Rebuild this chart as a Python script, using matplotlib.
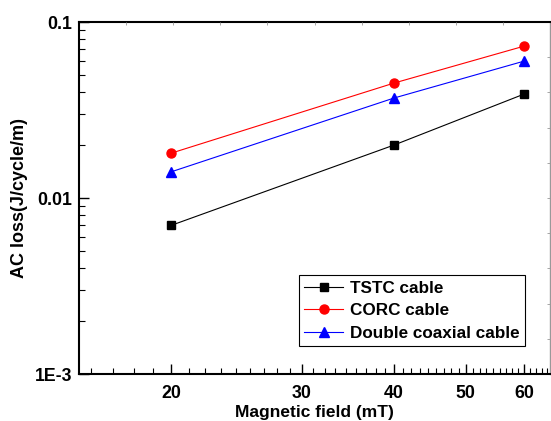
import numpy as np
import matplotlib.pyplot as plt
from matplotlib.ticker import FixedLocator, NullFormatter, NullLocator

plt.rcParams['font.family'] = ['Liberation Sans', 'DejaVu Sans']
plt.rcParams['font.weight'] = 'bold'

# Dados
campo = [20, 40, 60]
tstc = [0.0070, 0.020, 0.039]
corc = [0.018, 0.045, 0.073]
coaxial = [0.0141, 0.037, 0.060]

fig = plt.figure(figsize=(5.51, 4.21), dpi=100)
ax = fig.add_axes([0.1434, 0.1116, 0.8548, 0.8361])

ax.plot(campo, tstc, color='black', lw=0.8, marker='s', ms=5.5, label='TSTC cable')
ax.plot(campo, corc, color='red', lw=0.8, marker='o', ms=6.5, label='CORC cable')
ax.plot(campo, coaxial, color='blue', lw=0.8, marker='^', ms=7.5, label='Double coaxial cable')

ax.set_xscale('log')
ax.set_yscale('log')
ax.set_xlim(15, 65)
ax.set_ylim(1e-3, 0.1)

# Ticks do eixo X (estilo Origin: 8 ticks menores entre os maiores)
ax.xaxis.set_major_locator(FixedLocator([20, 30, 40, 50, 60]))
ax.xaxis.set_minor_locator(FixedLocator(20 + np.arange(-4, 41) * 10 / 9))
ax.xaxis.set_minor_formatter(NullFormatter())
ax.set_xticklabels(['20', '30', '40', '50', '60'])

ax.set_yticks([1e-3, 1e-2, 1e-1])
ax.set_yticklabels(['1E-3', '0.01', '0.1'])

ax.tick_params(which='major', direction='in', length=7, width=1, labelsize=12.8)
ax.tick_params(which='minor', direction='in', length=4, width=0.8)
ax.tick_params(axis='x', which='major', pad=8)
ax.tick_params(axis='y', which='major', pad=5)

for lado in ['left', 'bottom', 'top']:
    ax.spines[lado].set_linewidth(1.5)
ax.spines['right'].set_linewidth(1.0)
ax.spines['right'].set_color('#999999')

# Eixos de cima e da direita com ticks lineares sem rótulos
ax_top = ax.twiny()
ax_top.set_xlim(0, 1)
ax_top.set_xticks(np.linspace(0.1, 0.9, 9))
ax_top.xaxis.set_minor_locator(NullLocator())
ax_top.tick_params(direction='in', length=2, width=0.6, labeltop=False, colors='#999999')

ax_right = ax.twinx()
ax_right.set_ylim(0, 1)
ax_right.set_yticks(np.linspace(0.1, 0.9, 9))
ax_right.yaxis.set_minor_locator(NullLocator())
ax_right.tick_params(direction='in', length=2, width=0.6, labelright=False, colors='#999999')

for eixo in [ax_top, ax_right]:
    for sp in eixo.spines.values():
        sp.set_visible(False)

ax.set_xlabel('Magnetic field (mT)', fontsize=12.5, fontweight='bold', labelpad=2)
ax.set_ylabel('AC loss(J/cycle/m)', fontsize=13, fontweight='bold', labelpad=5)

leg = ax.legend(loc='lower right', bbox_to_anchor=(0.947, 0.0795), fontsize=12.3,
                fancybox=False, framealpha=1, edgecolor='black', handlelength=2.3,
                labelspacing=0.45, borderpad=0.3, handletextpad=0.4, borderaxespad=0)
leg.get_frame().set_linewidth(0.8)

plt.savefig('out.png', dpi=100)
